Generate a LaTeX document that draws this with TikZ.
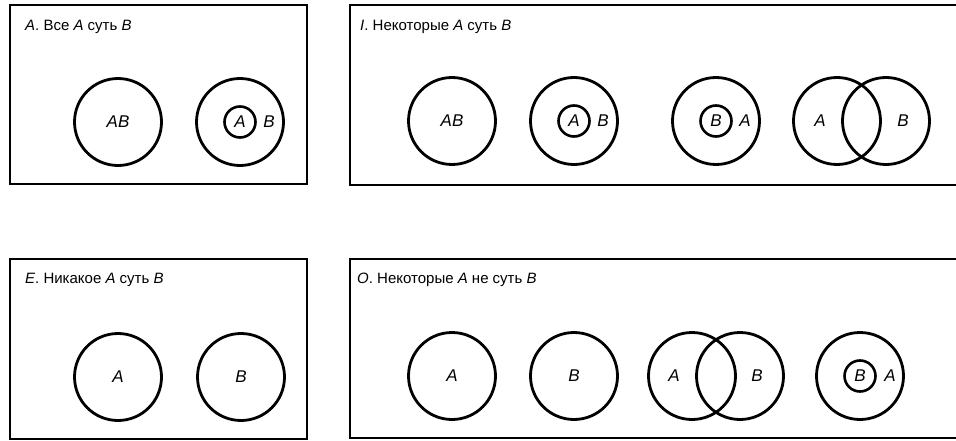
\documentclass[tikz,border=0pt]{standalone}
\usepackage{fontspec}
\setmainfont{Liberation Sans}
\usetikzlibrary{positioning}

\tikzset{
  frame/.style={line width=1.7pt},
  bigcirc/.style={circle, draw, line width=2.8pt, minimum size=87pt, inner sep=0pt,
    font=\fontsize{17}{17}\selectfont\itshape},
  smallcirc/.style={circle, draw, line width=2.6pt, minimum size=31pt, inner sep=0pt,
    font=\fontsize{17}{17}\selectfont\itshape},
  lbl/.style={inner sep=0pt, font=\fontsize{17}{17}\selectfont\itshape},
  heading/.style={anchor=base west, inner sep=0pt, font=\fontsize{15}{15}\selectfont}
}

\begin{document}
\begin{tikzpicture}[x=1pt, y=-1pt]
    \useasboundingbox (0,0) rectangle (956,441);

    % Frames
    \draw[frame] (10,5) rectangle (307,184);
    \draw[frame] (956,5) -- (350,5) -- (350,185) -- (956,185);
    \draw[frame] (10,259) rectangle (307,439);
    \draw[frame] (956,259) -- (350,259) -- (350,438) -- (956,438);

    % Headings
    \node[heading] (hA) at (25,31)  {\textit{A}. Все \textit{A} суть \textit{B}};
    \node[heading] (hI) at (360,31) {\textit{I}. Некоторые \textit{A} суть \textit{B}};
    \node[heading] (hE) at (25,283) {\textit{E}. Никакое \textit{A} суть \textit{B}};
    \node[heading] (hO) at (357,283) {\textit{O}. Некоторые \textit{A} не суть \textit{B}};

    % A: all A are B
    \node[bigcirc] (aAB) at (118,122) {AB};
    \node[bigcirc] (aB) at (240,122) {};
    \node[smallcirc] (aA) at (aB.center) {A};
    \node[lbl] (aBl) at (269,122) {B};

    % I: some A are B
    \node[bigcirc] (iAB) at (452,121) {AB};
    \node[bigcirc] (iB) at (574,121) {};
    \node[smallcirc] (iA) at (iB.center) {A};
    \node[lbl] (iBl) at (603,121) {B};
    \node[bigcirc] (iA2) at (716,121) {};
    \node[smallcirc] (iB2) at (iA2.center) {B};
    \node[lbl] (iA2l) at (745,121) {A};
    \node[bigcirc] (iVA) at (837,121) {};
    \node[bigcirc] (iVB) at (886,121) {};
    \node[lbl] (iVAl) at (820,121) {A};
    \node[lbl] (iVBl) at (903,121) {B};

    % E: no A is B
    \node[bigcirc] (eA) at (118,377) {A};
    \node[bigcirc] (eB) at (241,377) {B};

    % O: some A are not B
    \node[bigcirc] (oA) at (452,376) {A};
    \node[bigcirc] (oB) at (574,376) {B};
    \node[bigcirc] (oVA) at (692,376) {};
    \node[bigcirc] (oVB) at (740,376) {};
    \node[lbl] (oVAl) at (674,376) {A};
    \node[lbl] (oVBl) at (757,376) {B};
    \node[bigcirc] (oA2) at (860,376) {};
    \node[smallcirc] (oB2) at (oA2.center) {B};
    \node[lbl] (oA2l) at (890,376) {A};
\end{tikzpicture}
\end{document}
